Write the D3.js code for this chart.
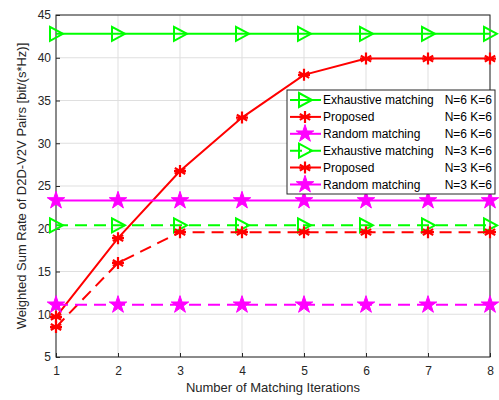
<!DOCTYPE html>
<html>
<head>
<meta charset="utf-8">
<script src="https://cdn.jsdelivr.net/npm/d3@7"></script>
<style>
  body { margin: 0; background: #fff; }
  text { font-family: "Liberation Sans", Arial, sans-serif; }
</style>
</head>
<body>
<svg id="chart" width="499" height="400"></svg>
<script>
// data
const iterations = [1, 2, 3, 4, 5, 6, 7, 8];
const exhaustiveN6 = [42.8, 42.8, 42.8, 42.8, 42.8, 42.8, 42.8, 42.8];
const proposedN6 = [9.7, 18.9, 26.75, 33.0, 38.0, 39.9, 39.9, 39.9];
const randomN6 = [23.3, 23.3, 23.3, 23.3, 23.3, 23.3, 23.3, 23.3];
const exhaustiveN3 = [20.4, 20.4, 20.4, 20.4, 20.4, 20.4, 20.4, 20.4];
const proposedN3 = [8.5, 16.0, 19.6, 19.6, 19.6, 19.6, 19.6, 19.6];
const randomN3 = [11.1, 11.1, 11.1, 11.1, 11.1, 11.1, 11.1, 11.1];
const yTicks = [5, 10, 15, 20, 25, 30, 35, 40, 45];

const series = [
  { name: 'Exhaustive matching', tag: 'N=6 K=6', values: exhaustiveN6, color: '#00ff00', marker: 'tri', dash: null },
  { name: 'Proposed', tag: 'N=6 K=6', values: proposedN6, color: '#ff0000', marker: 'ast', dash: null },
  { name: 'Random matching', tag: 'N=6 K=6', values: randomN6, color: '#ff00ff', marker: 'star', dash: null },
  { name: 'Exhaustive matching', tag: 'N=3 K=6', values: exhaustiveN3, color: '#00ff00', marker: 'tri', dash: '12,7' },
  { name: 'Proposed', tag: 'N=3 K=6', values: proposedN3, color: '#ff0000', marker: 'ast', dash: '12,7' },
  { name: 'Random matching', tag: 'N=3 K=6', values: randomN3, color: '#ff00ff', marker: 'star', dash: '12,7' }
];

const svg = d3.select('#chart');
const margin = { top: 15, right: 9, bottom: 43, left: 56 };
const width = 499 - margin.left - margin.right;
const height = 400 - margin.top - margin.bottom;

const x = d3.scaleLinear().domain([1, 8]).range([0, width]);
const y = d3.scaleLinear().domain([5, 45]).range([height, 0]);

const g = svg.append('g').attr('transform', `translate(${margin.left},${margin.top})`);

// grid
g.append('g').selectAll('line')
  .data(iterations)
  .enter().append('line')
  .attr('x1', d => x(d)).attr('x2', d => x(d))
  .attr('y1', 0).attr('y2', height)
  .attr('stroke', '#dfdfdf').attr('stroke-width', 1);
g.append('g').selectAll('line')
  .data(yTicks)
  .enter().append('line')
  .attr('x1', 0).attr('x2', width)
  .attr('y1', d => y(d)).attr('y2', d => y(d))
  .attr('stroke', '#dfdfdf').attr('stroke-width', 1);

// axes
const xAxis = g.append('g')
  .attr('transform', `translate(0,${height})`)
  .call(d3.axisBottom(x).tickValues(iterations).tickSize(-4).tickPadding(9).tickFormat(d3.format('d')));
const yAxis = g.append('g')
  .call(d3.axisLeft(y).tickValues(yTicks).tickSize(-4).tickPadding(5));
[xAxis, yAxis].forEach(a => {
  a.select('.domain').remove();
  a.selectAll('line').attr('stroke', '#262626');
  a.selectAll('text').attr('fill', '#262626').style('font-size', '12px')
    .style('font-family', '"Liberation Sans", Arial, sans-serif');
});

// box
g.append('rect')
  .attr('x', 0).attr('y', 0).attr('width', width).attr('height', height)
  .attr('fill', 'none').attr('stroke', '#262626').attr('stroke-width', 1);

// marker drawing
function drawMarker(sel, type, color) {
  if (type === 'tri') {
    sel.append('path')
      .attr('d', 'M-6,-7 L7,0 L-6,7 Z')
      .attr('fill', 'none').attr('stroke', color).attr('stroke-width', 2);
  } else if (type === 'ast') {
    const r = 6;
    const p = [0, 60, 120].map(a => {
      const t = a * Math.PI / 180;
      return `M${-r * Math.sin(t)},${-r * Math.cos(t)} L${r * Math.sin(t)},${r * Math.cos(t)}`;
    }).join(' ') + ` M${-r},0 L${r},0`;
    sel.append('path')
      .attr('d', p)
      .attr('fill', 'none').attr('stroke', color).attr('stroke-width', 2.2);
  } else {
    sel.append('path')
      .attr('d', d3.symbol().type(d3.symbolStar).size(95)())
      .attr('fill', color).attr('stroke', color).attr('stroke-width', 1);
  }
}

const line = d3.line().x((d, i) => x(iterations[i])).y(d => y(d));

series.forEach(s => {
  g.append('path')
    .datum(s.values)
    .attr('d', line)
    .attr('fill', 'none')
    .attr('stroke', s.color)
    .attr('stroke-width', 2)
    .attr('stroke-dasharray', s.dash);
  s.values.forEach((v, i) => {
    const m = g.append('g').attr('transform', `translate(${x(iterations[i])},${y(v)})`);
    drawMarker(m, s.marker, s.color);
  });
});

// legend
const legX = 287, legY = 90, legW = 208, rowH = 16.9;
const leg = svg.append('g').attr('transform', `translate(${legX},${legY})`);
leg.append('rect')
  .attr('x', 0).attr('y', 0).attr('width', legW).attr('height', 104)
  .attr('fill', '#fff').attr('stroke', '#262626').attr('stroke-width', 1);
series.forEach((s, i) => {
  const cy = 10 + i * rowH;
  leg.append('line')
    .attr('x1', 3).attr('x2', 34).attr('y1', cy).attr('y2', cy)
    .attr('stroke', s.color).attr('stroke-width', 2)
    .attr('stroke-dasharray', s.dash);
  const m = leg.append('g').attr('transform', `translate(18,${cy})`);
  drawMarker(m, s.marker, s.color);
  leg.append('text')
    .attr('x', 36).attr('y', cy).attr('dy', '0.36em')
    .style('font-size', '12px').attr('fill', '#000')
    .text(s.name);
  leg.append('text')
    .attr('x', 205).attr('y', cy).attr('dy', '0.36em')
    .attr('text-anchor', 'end')
    .style('font-size', '12px').attr('fill', '#000')
    .text(s.tag);
});

// axis titles
svg.append('text')
  .attr('x', margin.left + width / 2).attr('y', 392)
  .attr('text-anchor', 'middle')
  .style('font-size', '13px').attr('fill', '#262626')
  .text('Number of Matching Iterations');
svg.append('text')
  .attr('transform', `translate(26,${margin.top + height / 2}) rotate(-90)`)
  .attr('text-anchor', 'middle')
  .style('font-size', '13px').attr('fill', '#262626')
  .text('Weighted Sum Rate of D2D-V2V Pairs [bit/(s*Hz)]');
</script>
</body>
</html>
